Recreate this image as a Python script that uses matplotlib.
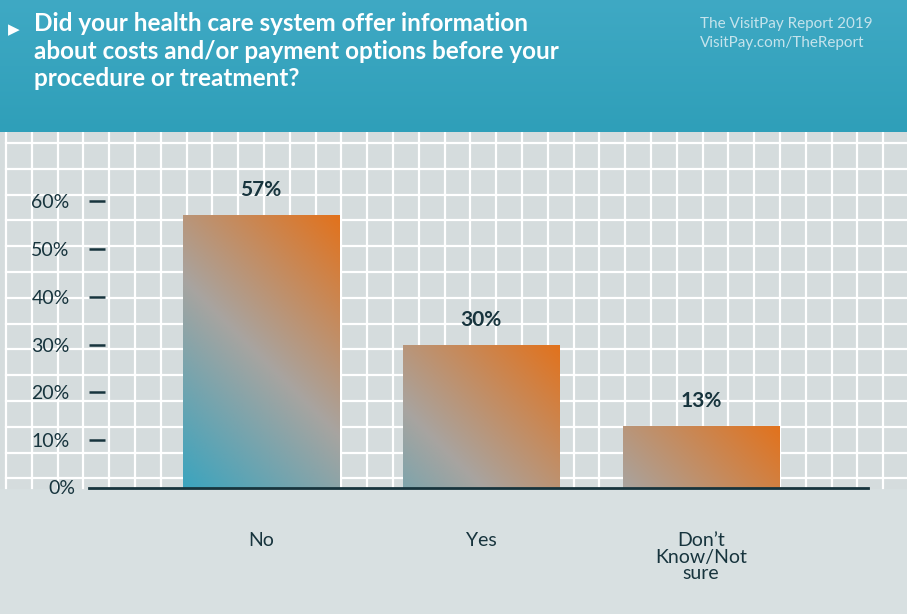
import numpy as np
import matplotlib
matplotlib.use("Agg")
import matplotlib.pyplot as plt
from matplotlib.colors import LinearSegmentedColormap
from matplotlib.patches import Rectangle

categories = ["No", "Yes", "Don\u2019t\nKnow/Not\nsure"]
values = [57, 30, 13]
value_labels = ["57%", "30%", "13%"]
yticks = [0, 10, 20, 30, 40, 50, 60]
ytick_labels = ["0%", "10%", "20%", "30%", "40%", "50%", "60%"]
title = "Did your health care system offer information\nabout costs and/or payment options before your\nprocedure or treatment?"
source = "The VisitPay Report 2019\nVisitPay.com/TheReport"

W, H = 907, 614
fig = plt.figure(figsize=(W/100, H/100), dpi=100)
fig.patch.set_facecolor("#d8e0e1")
FONT = "Lato"
dark = "#17343d"

# background axes in pixel coords
bg = fig.add_axes([0, 0, 1, 1])
bg.set_xlim(0, W); bg.set_ylim(H, 0); bg.axis("off")
bg.add_patch(Rectangle((0, 132), W, 356, color="#d5dcdd", zorder=0))
for x in np.arange(6, W, 25.8):
    bg.plot([x, x], [132, 488], color="white", lw=1.6, zorder=1)
for y in np.arange(143, 489, 25.8):
    bg.plot([6, W], [y, y], color="white", lw=1.6, zorder=1)
hdr = LinearSegmentedColormap.from_list("h", ["#3fa9c4", "#2f9fb9"])
grad = np.linspace(0, 1, 256).reshape(-1, 1)
bg.imshow(grad, cmap=hdr, extent=[0, W, 132, 0], aspect="auto", zorder=2)
bg.text(8, 30, "\u25B6", color="white", fontsize=11, va="center", family="DejaVu Sans", zorder=3)
bg.text(34, 12, title, color="white", fontsize=17.5, fontweight="bold", family=FONT,
        va="top", ha="left", linespacing=1.25, zorder=3)
bg.text(700, 17, source, color="#c5e3ec", fontsize=11, family=FONT, va="top", ha="left",
        linespacing=1.5, zorder=3)

# main axes
left, right = 89, 868
y0_px, ymax = 488, 65
px_per = (488 - 201) / 60
top_px = y0_px - ymax * px_per
ax = fig.add_axes([left/W, (H - y0_px)/H, (right-left)/W, (y0_px-top_px)/H])
ax.patch.set_alpha(0)
x = np.arange(len(categories))
ax.set_xlim(-0.782, 2.759)
ax.set_ylim(0, ymax)
for s in ["top", "right", "left"]:
    ax.spines[s].set_visible(False)
ax.spines["bottom"].set_color(dark); ax.spines["bottom"].set_linewidth(2)
ax.set_yticks(yticks[1:])
ax.set_yticklabels(ytick_labels[1:], fontsize=14, color=dark, family=FONT)
ax.tick_params(axis="y", direction="in", length=11.5, width=1.8, color=dark, pad=14)
ax.text(-0.782 - 14/220, 0, "0%", fontsize=14, color=dark, family=FONT, ha="right", va="center")
ax.set_xticks(x)
ax.set_xticklabels(categories, fontsize=14, color=dark, family=FONT, linespacing=0.95, va="top")
ax.tick_params(axis="x", length=0, pad=32)

cmap = LinearSegmentedColormap.from_list("b", [(0, "#e2721c"), (0.5, "#a8a4a0"), (1, "#35a4c0")])
bw = 0.71
for xi, v, lab in zip(x, values, value_labels):
    n = 200
    wpx = bw * 220
    hpx = v * px_per
    u = np.linspace(0, wpx, n)
    w = np.linspace(0, hpx, n)
    U, V = np.meshgrid(u, w)
    d = (wpx - U) + (hpx - V)
    t = np.clip(d / 440, 0, 1)
    im = ax.imshow(t, cmap=cmap, vmin=0, vmax=1, origin="lower",
                   extent=[xi - bw/2, xi + bw/2, 0, v], aspect="auto", zorder=2)
    r = Rectangle((xi - bw/2, 0), bw, v, transform=ax.transData, facecolor="none", edgecolor="none")
    ax.add_patch(r)
    im.set_clip_path(r)
    ax.text(xi, v + 25/px_per, lab, ha="center", va="center", fontsize=15,
            fontweight="bold", color=dark, family=FONT)
ax.set_xlim(-0.782, 2.759); ax.set_ylim(0, ymax)

fig.savefig("out.png", dpi=100)
